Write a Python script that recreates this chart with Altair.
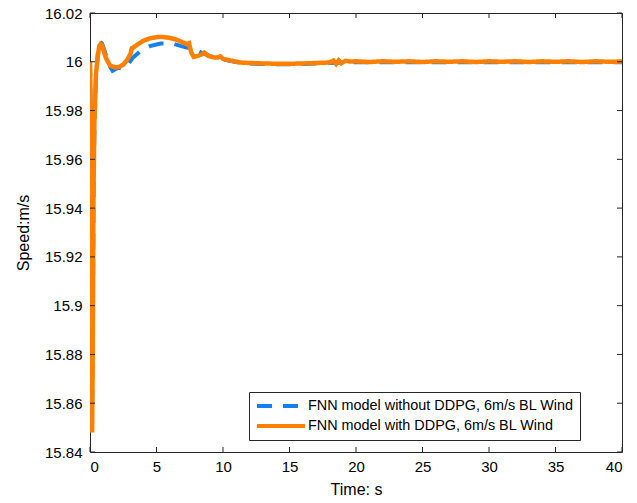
import altair as alt
import pandas as pd

# ---- data ----
t_with = [0, 0.03, 0.08, 0.12, 0.16, 0.2, 0.26, 0.33, 0.45, 0.6, 0.7, 0.8, 0.9, 1.0, 1.2, 1.5, 1.9,
          2.2, 2.5, 2.8, 3.05, 3.15, 3.25, 3.6, 4.0, 4.5, 5.0, 5.4, 6.0, 6.5, 7.0, 7.3, 7.45,
          7.6, 7.8, 8.1, 8.4, 8.6, 8.9, 9.3, 9.6, 9.8, 10.0, 10.5, 11.3, 12, 13, 14, 15, 16,
          17, 18, 18.3, 18.5, 18.7, 18.9, 19.2, 19.6, 20, 21, 22, 23, 24, 25, 26, 27, 28, 29,
          30, 31, 32, 33, 34, 35, 36, 37, 38, 39, 40]
v_with = [16.000, 15.99, 15.90, 15.852, 15.848, 15.875, 15.945, 15.975, 15.995, 16.003, 16.0065,
          16.0073, 16.0068, 16.005, 16.0015, 15.9985, 15.9977, 15.9979, 15.9988, 16.0008, 16.0033,
          16.0056, 16.0058, 16.0072, 16.0086, 16.0096, 16.0101, 16.0102, 16.0098, 16.0091, 16.0079,
          16.0072, 16.0076, 16.0040, 16.0020, 16.0024, 16.0030, 16.0038, 16.0024, 16.0018, 16.0017,
          16.0022, 16.0012, 16.0006, 15.9997, 15.9995, 15.9993, 15.9992, 15.9992, 15.9993, 15.9995,
          15.9997, 16.0005, 15.9991, 16.0006, 15.9994, 16.0004, 16.0001, 16.0002, 15.9999, 16.0002,
          16.0000, 16.0002, 15.9999, 16.0002, 16.0000, 16.0002, 15.9999, 16.0002, 16.0000, 16.0002,
          15.9999, 16.0002, 16.0000, 16.0002, 15.9999, 16.0002, 16.0000, 16.0001]

t_without = [0, 0.03, 0.08, 0.12, 0.16, 0.2, 0.26, 0.33, 0.45, 0.6, 0.75, 0.9, 1.1, 1.4, 1.7,
             2.0, 2.2, 2.5, 2.8, 3.2, 3.8, 4.5, 5.3, 6.3, 6.8, 7.3, 7.7, 8.1, 8.6, 9.1, 9.55,
             10.0, 10.5, 11.3, 12, 13, 14, 15, 16, 17, 18, 19, 20, 22, 24, 26, 28, 30, 32, 34,
             36, 38, 40]
v_without = [16.000, 15.99, 15.905, 15.858, 15.855, 15.88, 15.94, 15.972, 15.994, 16.004, 16.0082,
             16.0075, 16.0045, 15.9990, 15.9963, 15.9972, 15.9976, 15.9970, 15.9985, 16.0015,
             16.0045, 16.0064, 16.0075, 16.0073, 16.0065, 16.0058, 16.0052, 16.0045, 16.0032,
             16.0022, 16.0018, 16.0010, 16.0004, 15.9996, 15.9993, 15.9991, 15.9990, 15.9990,
             15.9991, 15.9993, 15.9995, 15.9997, 15.9998, 15.9998, 15.9998, 15.9998, 15.9998,
             15.9998, 15.9998, 15.9998, 15.9998, 15.9998, 15.9998]

series_names = ["FNN model without DDPG, 6m/s BL Wind", "FNN model with DDPG, 6m/s BL Wind"]
series_colors = ["#1580f0", "#ff8000"]
series_dash = [[15, 11], [1, 0]]

x_ticks = [0, 5, 10, 15, 20, 25, 30, 35, 40]
y_ticks = [15.84, 15.86, 15.88, 15.90, 15.92, 15.94, 15.96, 15.98, 16.00, 16.02]

FONT = "Liberation Sans"
W, H = 532, 439

df_without = pd.DataFrame({"t": t_without, "v": v_without, "s": series_names[0]})
df_with = pd.DataFrame({"t": t_with, "v": v_with, "s": series_names[1]})
df_xt = pd.DataFrame({"t": x_ticks})
df_yt = pd.DataFrame({"v": y_ticks})

xscale = alt.Scale(domain=[0, 40], nice=False)
yscale = alt.Scale(domain=[15.84, 16.02], nice=False, zero=False)

axis_style = dict(ticks=False, domain=False, grid=False,
                  labelFont=FONT, titleFont=FONT, labelFontSize=15, titleFontSize=16,
                  labelColor="#000000", titleColor="#000000", titleFontWeight="normal")
x_axis = alt.Axis(values=x_ticks, title="Time: s", labelPadding=7, titlePadding=7,
                  format="d", **axis_style)
y_axis = alt.Axis(values=y_ticks, title="Speed:m/s", labelPadding=8, titlePadding=13,
                  format=".2~f", **axis_style)

color = alt.Color("s:N", title=None,
                  scale=alt.Scale(domain=series_names, range=series_colors),
                  legend=alt.Legend(orient="none", legendX=159, legendY=379,
                                    symbolType="M-1,0H7", symbolSize=144,
                                    symbolStrokeWidth=4, symbolOffset=0, labelOffset=37,
                                    strokeColor="#262626", padding=6, rowPadding=4,
                                    labelFontSize=14.4, labelFont=FONT, labelColor="#000000",
                                    fillColor="white", labelLimit=400))
dash = alt.StrokeDash("s:N", title=None,
                      scale=alt.Scale(domain=series_names, range=series_dash),
                      legend=None)

base_x = alt.X("t:Q", scale=xscale, axis=x_axis)
base_y = alt.Y("v:Q", scale=yscale, axis=y_axis)

line_without = alt.Chart(df_without).mark_line(strokeWidth=4, clip=True).encode(
    x=base_x, y=base_y, color=color, strokeDash=dash)
line_with = alt.Chart(df_with).mark_line(strokeWidth=4.5, clip=True).encode(
    x=base_x, y=base_y, color=color, strokeDash=dash)

tick_col = "#262626"
xt_bottom = alt.Chart(df_xt).mark_rule(color=tick_col, strokeWidth=1).encode(
    x=alt.X("t:Q", scale=xscale, axis=x_axis), y=alt.value(H), y2=alt.value(H - 5))
xt_top = alt.Chart(df_xt).mark_rule(color=tick_col, strokeWidth=1).encode(
    x=alt.X("t:Q", scale=xscale, axis=x_axis), y=alt.value(0), y2=alt.value(5))
yt_left = alt.Chart(df_yt).mark_rule(color=tick_col, strokeWidth=1).encode(
    y=alt.Y("v:Q", scale=yscale, axis=y_axis), x=alt.value(0), x2=alt.value(5))
yt_right = alt.Chart(df_yt).mark_rule(color=tick_col, strokeWidth=1).encode(
    y=alt.Y("v:Q", scale=yscale, axis=y_axis), x=alt.value(W - 5), x2=alt.value(W))

chart = alt.layer(line_without, line_with, xt_bottom, xt_top, yt_left, yt_right).properties(
    width=W, height=H,
    autosize=alt.AutoSizeParams(type="none"),
    padding={"left": 90, "top": 13, "right": 15, "bottom": 51},
    background="white",
).configure_view(
    stroke="#262626", strokeWidth=1
)

chart.save("out.html", embed_options={"renderer": "svg", "actions": False})
